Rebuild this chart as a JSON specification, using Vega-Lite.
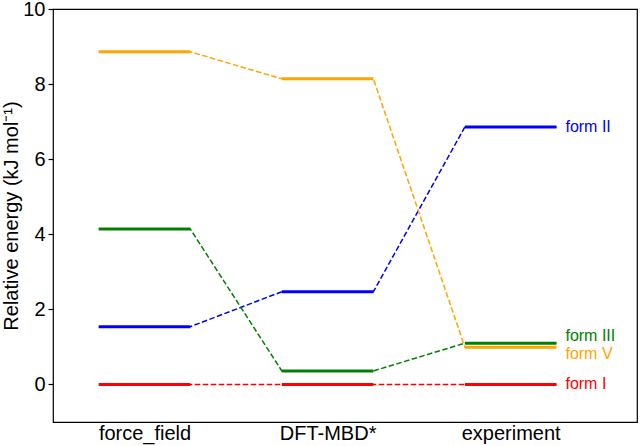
{
  "$schema": "https://vega.github.io/schema/vega-lite/v6.json",
  "width": 584,
  "height": 413,
  "autosize": {"type": "none"},
  "padding": {"left": 53, "top": 9, "right": 3, "bottom": 24},
  "background": "white",
  "config": {
    "view": {"stroke": "#000000", "strokeWidth": 1.2},
    "font": "Liberation Sans"
  },
  "data": {
    "values": [
      {"form": "form I", "method": "force_field", "energy": 0},
      {"form": "form I", "method": "DFT-MBD*", "energy": 0},
      {"form": "form I", "method": "experiment", "energy": 0},
      {"form": "form II", "method": "force_field", "energy": 1.54},
      {"form": "form II", "method": "DFT-MBD*", "energy": 2.47},
      {"form": "form II", "method": "experiment", "energy": 6.86},
      {"form": "form III", "method": "force_field", "energy": 4.14},
      {"form": "form III", "method": "DFT-MBD*", "energy": 0.36},
      {"form": "form III", "method": "experiment", "energy": 1.1},
      {"form": "form V", "method": "force_field", "energy": 8.86},
      {"form": "form V", "method": "DFT-MBD*", "energy": 8.14},
      {"form": "form V", "method": "experiment", "energy": 0.99}
    ]
  },
  "transform": [
    {"calculate": "indexof(['force_field','DFT-MBD*','experiment'], datum.method)", "as": "idx"},
    {"calculate": "datum.idx - 0.25", "as": "x0"},
    {"calculate": "datum.idx + 0.25", "as": "x1"}
  ],
  "encoding": {
    "color": {
      "field": "form",
      "type": "nominal",
      "scale": {"domain": ["form I", "form II", "form III", "form V"], "range": ["#ff0000", "#0000ff", "#008000", "#ffa500"]},
      "legend": null
    }
  },
  "layer": [
    {
      "transform": [
        {"fold": ["x0", "x1"], "as": ["side", "xpos"]}
      ],
      "mark": {"type": "line", "strokeWidth": 1.5, "strokeDash": [5.5, 2.5], "clip": true},
      "encoding": {
        "x": {
          "field": "xpos",
          "type": "quantitative",
          "scale": {"domain": [-0.5, 2.69], "nice": false, "zero": false},
          "axis": {
            "values": [0, 1, 2],
            "labelExpr": "['force_field','DFT-MBD*','experiment'][datum.value]",
            "title": null,
            "grid": false,
            "domain": false,
            "ticks": false,
            "labelFontSize": 20,
            "labelColor": "#000000",
            "labelPadding": 1,
            "labelFont": "Liberation Sans"
          }
        },
        "y": {
          "field": "energy",
          "type": "quantitative",
          "scale": {"domain": [-1, 10], "nice": false, "zero": false},
          "axis": {
            "values": [0, 2, 4, 6, 8, 10],
            "title": "Relative energy (kJ mol⁻¹)",
            "titleFontSize": 20,
            "titleFontWeight": "normal",
            "titleColor": "#000000",
            "titleFont": "Liberation Sans",
            "titlePadding": 1,
            "grid": false,
            "domain": false,
            "tickColor": "#000000",
            "tickSize": 5,
            "tickWidth": 1.2,
            "labelFontSize": 20,
            "labelColor": "#000000",
            "labelPadding": 3,
            "labelFont": "Liberation Sans"
          }
        },
        "detail": {"field": "form"},
        "order": {"field": "xpos", "type": "quantitative"}
      }
    },
    {
      "mark": {"type": "rule", "strokeWidth": 3},
      "encoding": {
        "x": {"field": "x0", "type": "quantitative"},
        "x2": {"field": "x1"},
        "y": {"field": "energy", "type": "quantitative"}
      }
    },
    {
      "transform": [{"filter": "datum.method === 'experiment' && (datum.form === 'form I' || datum.form === 'form II')"}],
      "mark": {"type": "text", "align": "left", "baseline": "middle", "dx": 9, "fontSize": 16, "font": "Liberation Sans"},
      "encoding": {
        "x": {"field": "x1", "type": "quantitative"},
        "y": {"field": "energy", "type": "quantitative"},
        "text": {"field": "form"}
      }
    },
    {
      "transform": [{"filter": "datum.method === 'experiment' && datum.form === 'form III'"}],
      "mark": {"type": "text", "align": "left", "baseline": "middle", "dx": 9, "dy": -7.5, "fontSize": 16, "font": "Liberation Sans"},
      "encoding": {
        "x": {"field": "x1", "type": "quantitative"},
        "y": {"field": "energy", "type": "quantitative"},
        "text": {"field": "form"}
      }
    },
    {
      "transform": [{"filter": "datum.method === 'experiment' && datum.form === 'form V'"}],
      "mark": {"type": "text", "align": "left", "baseline": "middle", "dx": 9, "dy": 6.5, "fontSize": 16, "font": "Liberation Sans"},
      "encoding": {
        "x": {"field": "x1", "type": "quantitative"},
        "y": {"field": "energy", "type": "quantitative"},
        "text": {"field": "form"}
      }
    }
  ]
}
